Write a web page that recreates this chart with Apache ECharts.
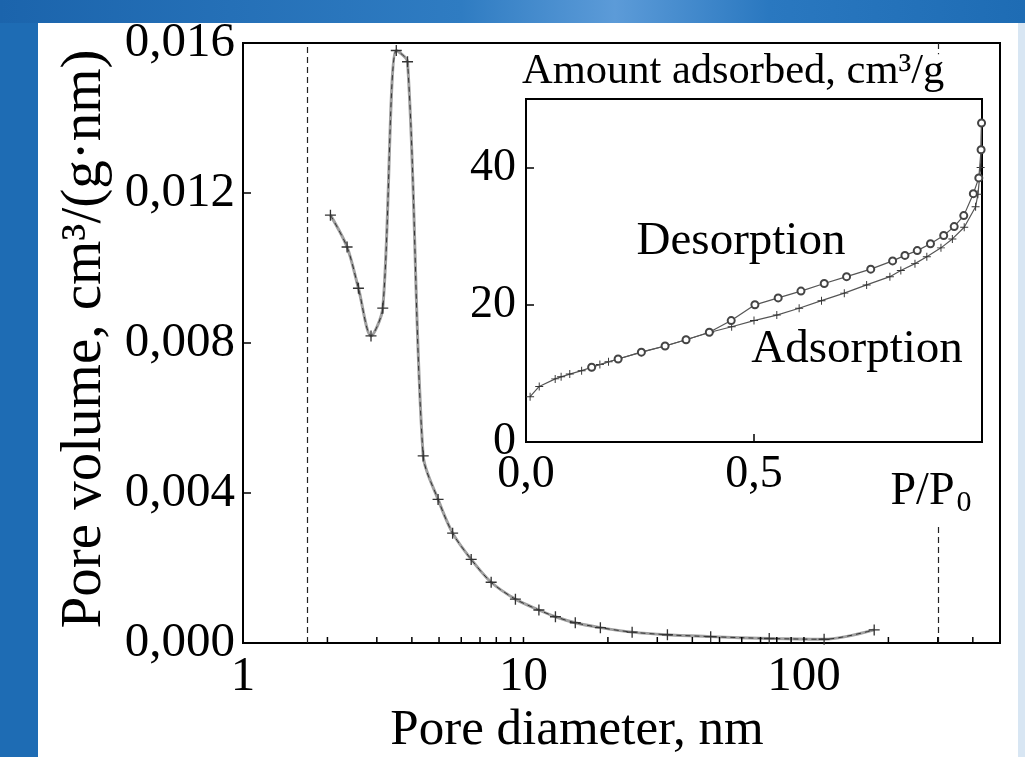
<!DOCTYPE html>
<html>
<head>
<meta charset="utf-8">
<script src="https://cdn.jsdelivr.net/npm/echarts@6/dist/echarts.min.js"></script>
<style>html,body{margin:0;padding:0;background:#fff}#c{width:1025px;height:757px}</style>
</head>
<body>
<div id="c"></div>
<script>
// ---- Main chart: pore size distribution ----
const poreDiameter = [2.05, 2.35, 2.58, 2.86, 3.15, 3.52, 3.86, 4.39, 4.96, 5.59, 6.51, 7.67, 9.36, 11.35, 13.0, 15.3, 18.8, 24.4, 32.6, 46.5, 75.2, 118, 178];
const poreVolume = [0.01141, 0.01056, 0.00946, 0.00819, 0.00893, 0.0158, 0.0155, 0.00499, 0.00383, 0.00293, 0.00223, 0.00162, 0.00117, 0.00088, 0.0007, 0.00054, 0.00041, 0.00029, 0.00022, 0.00017, 0.00012, 0.0001, 0.00035];
const xMajorTicks = [1, 10, 100];
const xAllTicks = [2, 3, 4, 5, 6, 7, 8, 9, 10, 20, 30, 40, 50, 60, 70, 80, 90, 100, 200, 300, 400];
const rangeLimits = [1.7, 300];
// ---- Inset: isotherm ----
const adsP = [0.009, 0.029, 0.064, 0.077, 0.096, 0.122, 0.144, 0.162, 0.181, 0.202, 0.253, 0.305, 0.351, 0.404, 0.451, 0.5, 0.55, 0.599, 0.648, 0.698, 0.747, 0.798, 0.822, 0.853, 0.879, 0.91, 0.935, 0.961, 0.986, 0.991, 0.997, 0.999];
const adsV = [6.6, 8.1, 9.2, 9.5, 9.9, 10.4, 10.9, 11.3, 11.7, 12.1, 13.1, 14.0, 14.9, 16.0, 16.8, 17.7, 18.5, 19.5, 20.6, 21.7, 22.9, 24.1, 25.0, 26.0, 27.0, 28.3, 29.6, 31.3, 34.3, 36.1, 40.0, 46.5];
const desP = [0.999, 0.998, 0.993, 0.981, 0.96, 0.939, 0.916, 0.887, 0.858, 0.831, 0.804, 0.756, 0.703, 0.654, 0.603, 0.553, 0.502, 0.45, 0.402, 0.351, 0.305, 0.253, 0.202, 0.144];
const desV = [46.5, 42.6, 38.5, 36.2, 33.0, 31.4, 30.1, 28.9, 27.9, 27.2, 26.4, 25.2, 24.1, 23.1, 22.0, 21.0, 20.0, 17.7, 16.0, 14.9, 14.0, 13.1, 12.1, 10.9];

const FONT = '"Liberation Serif","Times New Roman",serif';
const plusPath = 'path://M0,4.4H10V5.6H0Z M4.4,0H5.6V10H4.4Z';
const zip = (a, b) => a.map((v, i) => [v, b[i]]);

const chart = echarts.init(document.getElementById('c'), null, {renderer: 'canvas'});
const axisLineStyle = {show: true, lineStyle: {color: '#000', width: 2}};

const option = {
  animation: false,
  backgroundColor: '#1e6cb4',
  grid: [
    {left: 243, top: 43, width: 757, height: 600, show: true, borderColor: '#000', borderWidth: 2, backgroundColor: 'transparent'},
    {left: 526, top: 99, width: 456, height: 343, show: true, borderColor: '#000', borderWidth: 2, backgroundColor: 'transparent'}
  ],
  xAxis: [
    {
      gridIndex: 0, type: 'log', logBase: 10, min: 1, max: 500,
      axisLine: axisLineStyle,
      axisTick: {show: false},
      axisLabel: {color: '#000', fontFamily: FONT, fontSize: 49, margin: 10, showMaxLabel: false,
        formatter: v => (xMajorTicks.indexOf(Math.round(v)) >= 0 ? String(Math.round(v)) : '')},
      splitLine: {show: false}
    },
    {
      gridIndex: 1, type: 'value', min: 0, max: 1, interval: 0.5,
      axisLine: axisLineStyle,
      axisTick: {show: true, inside: true, length: 8, lineStyle: {color: '#000', width: 1.5}},
      axisLabel: {color: '#000', fontFamily: FONT, fontSize: 46, margin: 10, showMaxLabel: false, formatter: v => v.toFixed(1).replace('.', ',')},
      splitLine: {show: false}
    }
  ],
  yAxis: [
    {
      gridIndex: 0, type: 'value', min: 0, max: 0.016, interval: 0.004,
      axisLine: axisLineStyle,
      axisTick: {show: true, inside: true, length: 8, lineStyle: {color: '#000', width: 1.5}},
      axisLabel: {color: '#000', fontFamily: FONT, fontSize: 49, margin: 8, formatter: v => v.toFixed(3).replace('.', ',')},
      splitLine: {show: false}
    },
    {
      gridIndex: 1, type: 'value', min: 0, max: 50, interval: 20,
      axisLine: axisLineStyle,
      axisTick: {show: true, inside: true, length: 8, lineStyle: {color: '#000', width: 1.5}},
      axisLabel: {color: '#000', fontFamily: FONT, fontSize: 46, margin: 10, showMaxLabel: false},
      splitLine: {show: false}
    }
  ],
  series: [
    {
      type: 'custom', xAxisIndex: 0, yAxisIndex: 0, z: 6, silent: true, clip: false,
      data: xAllTicks.map(v => [v, 0]),
      renderItem: (params, api) => {
        const p = api.coord([api.value(0), api.value(1)]);
        return {type: 'line', shape: {x1: p[0], y1: p[1], x2: p[0], y2: p[1] - 6}, style: {stroke: '#000', lineWidth: 1.5}};
      }
    },
    {
      type: 'line', xAxisIndex: 0, yAxisIndex: 0, z: 2,
      data: zip(poreDiameter, poreVolume), smooth: 0.3, symbol: 'none',
      lineStyle: {color: '#a0a0a0', width: 3},
      markLine: {
        silent: true, symbol: 'none', label: {show: false},
        lineStyle: {type: [6, 4], color: '#222', width: 1.2},
        data: [
          [{coord: [rangeLimits[0], 0]}, {coord: [rangeLimits[0], 0.016]}],
          [{coord: [rangeLimits[1], 0]}, {coord: [rangeLimits[1], 0.00315]}],
          [{coord: [rangeLimits[1], 0.016]}, {coord: [rangeLimits[1], 0.0157]}]
        ]
      }
    },
    {
      type: 'line', xAxisIndex: 0, yAxisIndex: 0, z: 3,
      data: zip(poreDiameter, poreVolume), smooth: 0.3,
      symbol: plusPath, symbolSize: 11, showAllSymbol: true,
      itemStyle: {color: '#333'},
      lineStyle: {color: '#333', width: 1, type: [5, 4]}
    },
    {
      type: 'line', xAxisIndex: 1, yAxisIndex: 1, z: 4,
      data: zip(adsP, adsV), symbol: plusPath, symbolSize: 8, showAllSymbol: true,
      itemStyle: {color: '#333'},
      lineStyle: {color: '#555', width: 1.2}
    },
    {
      type: 'line', xAxisIndex: 1, yAxisIndex: 1, z: 5,
      data: zip(desP, desV), symbol: 'emptyCircle', symbolSize: 7, showAllSymbol: true,
      itemStyle: {color: '#444', borderColor: '#444', borderWidth: 1},
      lineStyle: {color: '#555', width: 1.2}
    }
  ],
  graphic: [
    {type: 'rect', z: -100, silent: true, shape: {x: 0, y: 0, width: 1025, height: 23},
      style: {fill: new echarts.graphic.LinearGradient(0, 0, 1, 0, [
        {offset: 0, color: '#1b64ac'}, {offset: 0.45, color: '#2f7cc2'}, {offset: 0.6, color: '#5c9bd8'},
        {offset: 0.75, color: '#2a78c0'}, {offset: 1, color: '#1e6cb4'}])}},
    {type: 'rect', z: -99, silent: true, shape: {x: 38, y: 23, width: 980, height: 734}, style: {fill: '#ffffff'}},
    {type: 'rect', z: -99, silent: true, shape: {x: 1018, y: 23, width: 7, height: 734}, style: {fill: '#d8e6f3'}},
    {type: 'text', z: 100, x: 85, y: 339, rotation: Math.PI / 2, silent: true,
      style: {text: 'Pore volume, cm³/(g·nm)', fontFamily: FONT, fontSize: 57, fill: '#000', align: 'center', verticalAlign: 'middle'}},
    {type: 'text', z: 100, x: 577, y: 731, silent: true,
      style: {text: 'Pore diameter, nm', fontFamily: FONT, fontSize: 51, fill: '#000', align: 'center', verticalAlign: 'middle'}},
    {type: 'text', z: 100, x: 522, y: 72, silent: true,
      style: {text: 'Amount adsorbed, cm³/g', fontFamily: FONT, fontSize: 42.5, fill: '#000', align: 'left', verticalAlign: 'middle'}},
    {type: 'text', z: 100, x: 741, y: 242, silent: true,
      style: {text: 'Desorption', fontFamily: FONT, fontSize: 47, fill: '#000', align: 'center', verticalAlign: 'middle'}},
    {type: 'text', z: 100, x: 857, y: 350, silent: true,
      style: {text: 'Adsorption', fontFamily: FONT, fontSize: 47, fill: '#000', align: 'center', verticalAlign: 'middle'}},
    {type: 'text', z: 100, x: 931, y: 492, silent: true,
      style: {text: '{a|P/P}{s|0}', fill: '#000', align: 'center', verticalAlign: 'middle',
        rich: {a: {fontFamily: FONT, fontSize: 46, fill: '#000'}, s: {fontFamily: FONT, fontSize: 30, fill: '#000', padding: [22, 0, 0, 2]}}}}
  ]
};
chart.setOption(option);
</script>
</body>
</html>
